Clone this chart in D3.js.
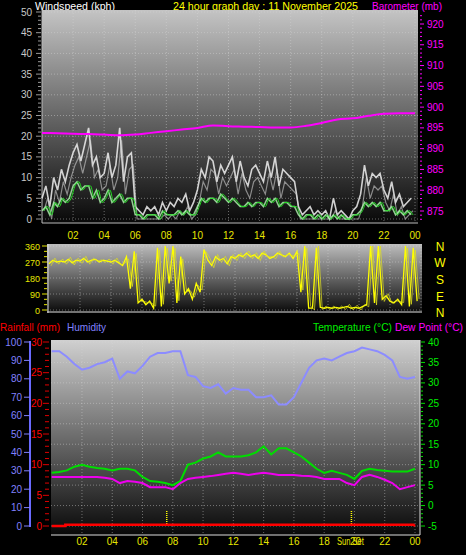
<!DOCTYPE html>
<html><head><meta charset="utf-8">
<script src="https://cdn.jsdelivr.net/npm/d3@7"></script>
<style>body{margin:0;background:#000}svg{display:block}text{font-family:"Liberation Sans",Arial,sans-serif}</style>
</head><body><svg id="c" width="466" height="555"></svg>
<script>
// ---- data ----
const hourTicks = ["02","04","06","08","10","12","14","16","18","20","22","00"];
const windGust = [5,8,3,10, 7,12,9,13, 16,18,14,18, 22,13,15,10, 11,16,10,13, 22,9,15,16,
  3,2,1,3, 2,3,1,4, 2,4,3,5, 4,6,2,4, 7,12,10,15, 14,9,13,11, 13,15,9,14, 10,8,12,13,
  11,9,14,10, 15,8,12,11, 10,9,3,1, 2,3,1,2, 1,2,0,5, 1,2,1,0, 2,3,6,13, 8,11,10,11, 7,5,9,4, 6,3,4,5];
const windAvg = [2,3,1,4, 3,5,4,5, 8,9,7,8, 8,5,7,4, 5,7,4,5, 6,4,5,5, 1,1,0,1, 1,1,0,2,
  1,1,1,2, 1,2,1,1, 3,5,4,5, 5,4,6,5, 4,5,4,3, 3,4,3,4, 4,3,5,4, 5,3,4,4, 3,3,1,0,
  1,1,0,1, 0,1,0,1, 0,1,0,0, 1,1,2,4, 3,4,3,4, 2,2,3,1, 2,1,2,1];
const baro = [893.8,893.7,893.6,893.5,893.4,893.2,893.4,893.8,894.2,894.6,895,895.6,895.4,
  895.3,895.2,895.1,895.1,895.5,896.2,897,897.3,897.9,898.4,898.5,898.5];
const windDir = [260,280,270,275, 270,285,265,280, 275,290,270,280, 285,270,280,275, 270,280,265,250,
  300,120,330,40, 60,30,50,10, 350,20,360,150, 360,40,300,90, 120,60,150,100, 340,280,250,300,
  280,290,260,300, 290,310,300,320, 300,310,290,320, 310,290,300,320, 310,300,320,290, 330,100,360,10,
  10,350,15,10, 15,10,15,10, 15,20,10,15, 10,20,30,360, 40,360,60,80, 50,40,60,30, 360,20,350,50];
const humidity = [95,95,92,88,85,86,88,89,91,80,84,83,87,92,94,94,95,95,82,81,76,75,77,72,75,74,74,70,70,71,
  66,66,70,78,86,90,91,90,92,94,95,97,96,95,93,90,81,80,81];
const temperature = [8,8.2,8.6,9.5,10,9.5,9.2,9,8.6,9,9,8.6,7,6,5.8,5.5,5,6,10,10.5,11.5,12,13,12,12,12,12.3,13,
  14.5,12.5,14,14,13,12,10.5,9,8,8.5,8,7.5,6.5,8.5,9,8.7,8.5,8.3,8.3,8.3,9];
const dewPoint = [7,7,7,7,7,7,7,6.8,6.5,5.5,6,5.8,5.5,4.5,4.5,4.5,4,5.5,6.5,6.8,7,7.2,7.5,7.8,8,7.8,7.5,7.8,
  8,7.8,7.5,7.5,7.5,7.3,7.2,7,6.5,6.5,6.5,5.5,5,7,7.5,7,6.3,5.5,4,4.5,5];
const rainT = [0,0.9,0.9,23.9,24];
const rainV = [0,0,0.2,0.2,0];
const sunEvents = [7.6,19.8];

const svg = d3.select("#c");
const defs = svg.append("defs");
function grad(id, top){
  const g = defs.append("linearGradient").attr("id",id).attr("x1",0).attr("y1",0).attr("x2",0).attr("y2",1);
  g.append("stop").attr("offset",0).attr("stop-color",top);
  g.append("stop").attr("offset",1).attr("stop-color","#080808");
}
grad("g1","#c4c4c4"); grad("g2","#bdbdbd"); grad("g3","#d0d0d0");

function panel(x0,x1,y0,y1,gid){
  svg.append("rect").attr("x",x0).attr("y",y0).attr("width",x1-x0).attr("height",y1-y0).attr("fill",`url(#${gid})`);
}
function vgrid(xs,y0,y1){ xs.forEach(x=>svg.append("line").attr("x1",x).attr("x2",x).attr("y1",y0).attr("y2",y1)
  .attr("stroke","#d8d8d8").attr("stroke-opacity",0.45).attr("stroke-dasharray","1,2")); }
function hgrid(ys,x0,x1){ ys.forEach(y=>svg.append("line").attr("x1",x0).attr("x2",x1).attr("y1",y).attr("y2",y)
  .attr("stroke","#d8d8d8").attr("stroke-opacity",0.45).attr("stroke-dasharray","1,2")); }
function txt(x,y,s,fill,anchor,size){ return svg.append("text").attr("x",x).attr("y",y).text(s).attr("fill",fill)
  .attr("text-anchor",anchor||"start").attr("font-size",size||10); }
function ttl(x,y,s,fill,len){ return txt(x,y,s,fill,"start",11.5).attr("textLength",len).attr("lengthAdjust","spacingAndGlyphs"); }
const t15 = d3.range(96).map(i=>i/4);
const t30 = d3.range(49).map(i=>i/2);

// ---- titles ----
ttl(35,10,"Windspeed (kph)","#ffffff",80);
ttl(173,10,"24 hour graph day : 11 November 2025","#ffff00",185);
ttl(372,10,"Barometer (mb)","#ff00ff",70);

// ---- Panel 1 ----
const x1 = d3.scaleLinear().domain([0,24]).range([42,415]);
const yW = d3.scaleLinear().domain([0,50]).range([219,12]);
const yB = d3.scaleLinear().domain([875,920]).range([211,24]);
panel(42,418,10,223,"g1");
vgrid(d3.range(2,25,2).map(h=>x1(h)),10,223);
hgrid(d3.range(0,51,5).map(v=>yW(v)),42,418);
svg.append("line").attr("x1",42).attr("x2",418).attr("y1",223).attr("y2",223).attr("stroke","#bbb");
svg.append("line").attr("x1",42).attr("x2",42).attr("y1",10).attr("y2",223).attr("stroke","#bbb");
d3.range(0,51,1).forEach(v=>svg.append("line").attr("x1",v%5?38:36).attr("x2",41).attr("y1",yW(v)).attr("y2",yW(v)).attr("stroke","#999"));
d3.range(0,51,5).forEach(v=>txt(32,yW(v)+3.5,v,"#c8c8c8","end",10));
d3.range(873,923,1).forEach(v=>{ if(yB(v)>10&&yB(v)<223) svg.append("line").attr("x1",420).attr("x2",v%5?422:424).attr("y1",yB(v)).attr("y2",yB(v)).attr("stroke","#ff00ff");});
d3.range(875,921,5).forEach(v=>txt(427,yB(v)+3.5,v,"#ff00ff","start",10));
hourTicks.forEach((s,i)=>txt(x1(2*(i+1)),239,s,"#e6e600","middle",10));
const lw = d3.line();
svg.append("path").attr("d",lw(windGust.map((v,i)=>[x1(t15[i]),yW(v)]))).attr("fill","none").attr("stroke","#f0f0f0").attr("stroke-width",1.6).attr("stroke-opacity",0.85);
svg.append("path").attr("d",lw(windGust.map((v,i)=>[x1(t15[i]+0.12),yW(Math.max(0,v-3))]))).attr("fill","none").attr("stroke","#d0d0d0").attr("stroke-width",1.2).attr("stroke-opacity",0.6);
svg.append("path").attr("d",lw(windAvg.map((v,i)=>[x1(t15[i]),yW(v)]))).attr("fill","none").attr("stroke","#a8f0a8").attr("stroke-width",1.5).attr("stroke-opacity",0.85);
svg.append("path").attr("d",d3.line().curve(d3.curveMonotoneX)(windAvg.map((v,i)=>[x1(t15[i]+0.12),yW(v)]))).attr("fill","none").attr("stroke","#22dd22").attr("stroke-width",1);
svg.append("path").attr("d",d3.line().curve(d3.curveMonotoneX)(baro.map((v,i)=>[x1(i),yB(v)]))).attr("fill","none").attr("stroke","#ff00ff").attr("stroke-width",2);

// ---- Panel 2 ----
const x2 = d3.scaleLinear().domain([0,24]).range([49,421]);
const yD = d3.scaleLinear().domain([0,360]).range([310,246]);
panel(47,422,244,313,"g2");
vgrid(d3.range(2,25,2).map(h=>x2(h)),244,313);
hgrid([0,90,180,270,360].map(v=>yD(v)),47,422);
svg.append("line").attr("x1",48).attr("x2",48).attr("y1",244).attr("y2",313).attr("stroke","#ddd");
svg.append("line").attr("x1",47).attr("x2",422).attr("y1",312).attr("y2",312).attr("stroke","#ddd");
d3.range(0,361,30).forEach(v=>svg.append("line").attr("x1",v%90?44:42).attr("x2",47).attr("y1",yD(v)).attr("y2",yD(v)).attr("stroke","#e6e600"));
[0,90,180,270,360].forEach(v=>txt(40,yD(v)+3.5,v,"#e6e600","end",9));
["N","W","S","E","N"].forEach((s,i)=>txt(440,[251,267,284,301,317][i],s,"#ffff00","middle",12));
svg.append("path").attr("d",d3.line()(windDir.map((v,i)=>[x2(t15[i]),yD(v)]))).attr("fill","none").attr("stroke","#ffff00").attr("stroke-width",1.3);
svg.append("path").attr("d",d3.line()(windDir.map((v,i)=>[x2(t15[i]+0.13),yD(Math.max(0,Math.min(360,v+(i%2?12:-12))))]))).attr("fill","none").attr("stroke","#e0e020").attr("stroke-width",1).attr("stroke-opacity",0.7);

// ---- Panel 3 ----
ttl(0,331,"Rainfall (mm)","#ff0000",60);
ttl(67,331,"Humidity","#8080ff",39);
ttl(313,331,"Temperature (°C)","#00ee00",79);
ttl(395,331,"Dew Point (°C)","#ff00ff",68);
const x3 = d3.scaleLinear().domain([0,24]).range([51.7,415]);
const yH = d3.scaleLinear().domain([0,100]).range([526,342]);
const yR = d3.scaleLinear().domain([0,30]).range([526,342]);
const yT = d3.scaleLinear().domain([-5,40]).range([526,342]);
panel(51,420,340,535,"g3");
vgrid(d3.range(2,25,2).map(h=>x3(h)),340,535);
hgrid(d3.range(-5,41,5).map(v=>yT(v)),51,420);
svg.append("line").attr("x1",420).attr("x2",420).attr("y1",340).attr("y2",535).attr("stroke","#ddd");
svg.append("line").attr("x1",51).attr("x2",420).attr("y1",535).attr("y2",535).attr("stroke","#ddd");
svg.append("line").attr("x1",30).attr("x2",30).attr("y1",341).attr("y2",527).attr("stroke","#6a6aff").attr("stroke-width",2);
d3.range(0,101,10).forEach(v=>{ svg.append("line").attr("x1",24).attr("x2",30).attr("y1",yH(v)).attr("y2",yH(v)).attr("stroke","#8080ff");
  txt(22,yH(v)+3.5,v,"#8080ff","end",10);});
d3.range(0,31,1).forEach(v=>svg.append("line").attr("x1",v%5?45:43).attr("x2",49).attr("y1",yR(v)).attr("y2",yR(v)).attr("stroke","#dd0000"));
d3.range(0,31,5).forEach(v=>txt(42,yR(v)+3.5,v,"#ff0000","end",10));
d3.range(-5,41,1).forEach(v=>svg.append("line").attr("x1",421).attr("x2",v%5?423:425).attr("y1",yT(v)).attr("y2",yT(v)).attr("stroke","#00dd00"));
d3.range(-5,41,5).forEach(v=>txt(428,yT(v)+3.5,v,"#00ee00","start",10));
hourTicks.forEach((s,i)=>{ if(s!=="20") txt(x3(2*(i+1)),545,s,"#e6e600","middle",10);});
txt(x3(20)+1,545,"20","#e6e600","middle",10);
txt(x3(sunEvents[1])-1,545,"Sun Set","#e6e600","middle",10).attr("textLength",27).attr("lengthAdjust","spacingAndGlyphs");
sunEvents.forEach(h=>svg.append("line").attr("x1",x3(h)).attr("x2",x3(h)).attr("y1",511).attr("y2",526).attr("stroke","#ffff00").attr("stroke-width",1.5).attr("stroke-dasharray","1,1"));
const lc = d3.line().curve(d3.curveLinear);
svg.append("path").attr("d",lc(humidity.map((v,i)=>[x3(t30[i]),yH(v)]))).attr("fill","none").attr("stroke","#8c8cff").attr("stroke-width",2);
svg.append("path").attr("d",lc(temperature.map((v,i)=>[x3(t30[i]),yT(v)]))).attr("fill","none").attr("stroke","#00dd00").attr("stroke-width",2);
svg.append("path").attr("d",lc(dewPoint.map((v,i)=>[x3(t30[i]),yT(v)]))).attr("fill","none").attr("stroke","#ee00ee").attr("stroke-width",2);
svg.append("path").attr("d",lc(rainV.map((v,i)=>[x3(rainT[i]),yR(v)]))).attr("fill","none").attr("stroke","#ff0000").attr("stroke-width",2.5);
</script></body></html>
